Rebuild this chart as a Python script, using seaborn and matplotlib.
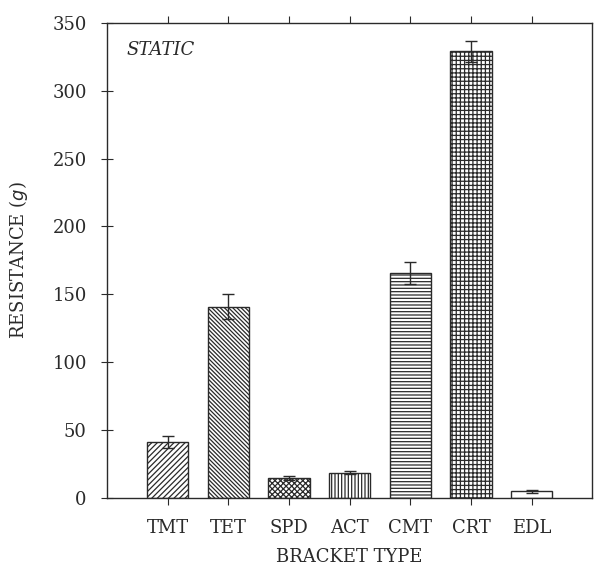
import pandas as pd
import matplotlib.pyplot as plt
import seaborn as sns

# === Data ===
brackets = ["TMT", "TET", "SPD", "ACT", "CMT", "CRT", "EDL"]
resistance = [41, 141, 14.5, 18.5, 166, 329, 5]
err = [4.5, 9, 1.5, 1, 8, 8, 1]
hatches = ["//////", "\\" * 8, "xxxxxx", "|||||", "-----", "++++", ""]

df = pd.DataFrame({"bracket": brackets, "resistance": resistance, "err": err})

sns.set_style("ticks")
plt.rcParams["font.family"] = ["DejaVu Serif"]
plt.rcParams["hatch.linewidth"] = 0.9

ink = "#2a2a2a"
fig = plt.figure(figsize=(5.94, 5.73), dpi=100)
ax = fig.add_axes([0.180, 0.131, 0.817, 0.829])

sns.barplot(data=df, x="bracket", y="resistance", color="white",
            edgecolor=ink, linewidth=1.0, width=0.68,
            errorbar=None, ax=ax)
for patch, h in zip(ax.patches, hatches):
    patch.set_hatch(h)
    patch.set_facecolor("white")

ax.errorbar(range(len(brackets)), df["resistance"], yerr=df["err"], fmt="none",
            ecolor=ink, elinewidth=1.0, capsize=4, capthick=1.0)

ax.set_xlim(-1, len(brackets))
ax.set_ylim(0, 350)
ax.set_yticks(range(0, 351, 50))
ax.set_xticks(range(len(brackets)))
ax.set_xticklabels(brackets)

for s in ax.spines.values():
    s.set_color(ink)
    s.set_linewidth(1.0)
ax.tick_params(axis="y", direction="inout", length=9, labelsize=13, colors=ink, pad=10)
ax.tick_params(axis="x", direction="out", length=5, labelsize=13, colors=ink, pad=10)
ax.tick_params(axis="x", top=True, labeltop=False)

ax.set_xlabel("BRACKET TYPE", fontsize=13, color=ink, labelpad=8)
ax.set_ylabel("RESISTANCE ($\\it{g}$)", fontsize=13, color=ink, labelpad=16)
ax.text(0.041, 0.962, "STATIC", transform=ax.transAxes, style="italic",
        fontsize=13, color=ink, va="top")

fig.savefig("out.png", dpi=100)
